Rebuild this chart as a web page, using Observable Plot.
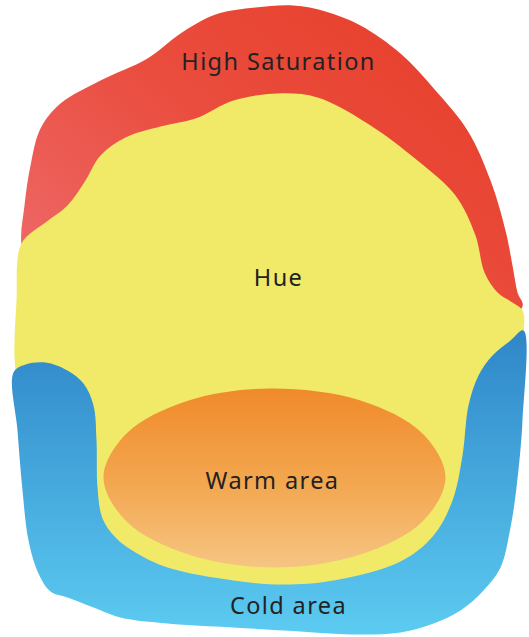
<!DOCTYPE html>
<html>
<head>
<meta charset="utf-8">
<script src="https://cdn.jsdelivr.net/npm/d3@7"></script>
<script src="https://cdn.jsdelivr.net/npm/@observablehq/plot@0.6"></script>
<style>
  html, body { margin: 0; padding: 0; background: #fff; }
</style>
</head>
<body>
<div id="chart"></div>
<script>
// Region outlines (x, y in picture units)
const redRegion = [
  [21,245],[24,205],[30,165],[40,128],[60,103],[100,80],[147,58],[180,33],[215,14],
  [255,7],[293,5],[325,11],[360,25],[400,53],[435,90],[467,130],[490,180],[505,230],
  [512,265],[517,292],[522,306],[480,330],[280,330],[100,330],[40,310]
];
const yellowRegion = [
  [16,300],[21,243],[45,222],[67,205],[85,180],[100,155],[125,137],[160,126],[195,118],
  [233,100],[277,93],[317,97],[367,123],[417,160],[455,195],[475,235],[484,272],[497,292],
  [512,302],[522,310],[523,335],[512,400],[470,540],[270,595],[70,540],[28,420],[15,370]
];
const blueRegion = [
  [13,372],[25,364],[45,362],[67,370],[83,383],[93,405],[96,440],[97,487],[102,518],
  [115,537],[135,552],[167,567],[233,580],[283,584],[333,580],[400,561],[433,535],
  [452,500],[462,455],[468,405],[478,375],[492,355],[510,340],[523,330],[522,420],
  [516,487],[510,527],[500,567],[483,590],[460,610],[433,623],[400,632],[350,634],
  [300,631],[233,627],[167,623],[120,617],[93,607],[67,597],[50,591],[38,573],
  [28,540],[22,490],[17,430]
];
const warmRegion = [
  [445,477],[422,521],[360,554],[274,567],[188,554],[126,521],[103,477],[126,433],
  [188,400],[270,388],[360,400],[422,433]
];
const labels = ["High Saturation", "Hue", "Warm area", "Cold area"];
const labelX = [278, 278, 272, 288];
const labelY = [62, 278, 481, 606];

const toRows = (pts) => pts.map(([x, y]) => ({x, y}));
const labelRows = labels.map((t, i) => ({text: t, x: labelX[i], y: labelY[i]}));

const W = 529, H = 637;
const blob = (pts, fill) => Plot.line(toRows(pts), {
  x: "x", y: "y", curve: "catmull-rom-closed", fill, stroke: "none"
});

const svg = Plot.plot({
  width: W, height: H,
  margin: 0,
  x: {domain: [0, W], range: [0, W], axis: null},
  y: {domain: [0, H], range: [0, H], axis: null},
  style: {fontFamily: "'Noto Sans', sans-serif", letterSpacing: "1.4px", background: "#fff"},
  marks: [
    blob(redRegion, "url(#gradRed)"),
    blob(yellowRegion, "#f0ea68"),
    blob(blueRegion, "url(#gradBlue)"),
    blob(warmRegion, "url(#gradOrange)"),
    Plot.text(labelRows, {x: "x", y: "y", text: "text", fontSize: 23.5, fill: "#222"})
  ]
});

const defs = d3.create("svg:defs");
function grad(id, x1, y1, x2, y2, stops) {
  const g = defs.append("linearGradient").attr("id", id)
    .attr("x1", x1).attr("y1", y1).attr("x2", x2).attr("y2", y2);
  stops.forEach(([o, c]) => g.append("stop").attr("offset", o).attr("stop-color", c));
}
grad("gradRed", 0, 0.85, 0.85, 0.15, [[0, "#ee6a6a"], [0.55, "#ea4d3e"], [1, "#e8412e"]]);
grad("gradBlue", 0, 0, 0, 1, [[0, "#2f86c8"], [1, "#5ccbf1"]]);
grad("gradOrange", 0, 0, 0, 1, [[0, "#f08a2a"], [0.55, "#f3a851"], [1, "#f6c583"]]);
svg.insertBefore(defs.node(), svg.firstChild);

document.getElementById("chart").appendChild(svg);
</script>
</body>
</html>
